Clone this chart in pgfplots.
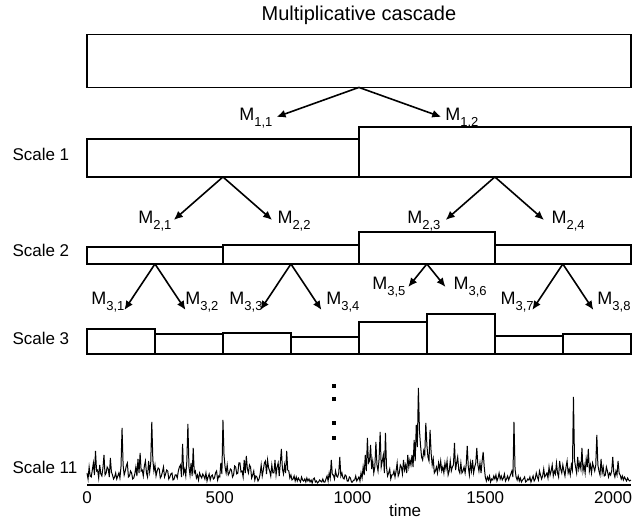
\documentclass[border=0pt]{standalone}
\usepackage{fontspec}
\setmainfont{Liberation Sans}
\usepackage{pgfplots}
\pgfplotsset{compat=1.18}
\usetikzlibrary{arrows.meta}

% label M_{i,j} with a lowered small index
\newcommand{\Mlab}[2]{M\raisebox{-3pt}{\fontsize{6.5}{7}\selectfont #1,#2}}

\tikzset{
  box/.style={black, line width=0.8pt, line join=miter},
  arr/.style={black, line width=0.8pt, -{Latex[length=4.5pt,width=4pt]}},
  lab/.style={anchor=base west, inner sep=0pt, font=\fontsize{9}{10}\selectfont},
  sc/.style={anchor=west, inner sep=0pt, font=\fontsize{8.5}{10}\selectfont},
}

\begin{document}
\begin{tikzpicture}
\begin{axis}[
  name=ax,
  scale only axis,
  width=271.9pt, height=242.5pt,
  xmin=0, xmax=2048, ymin=0, ymax=485,
  axis x line=bottom, axis y line=none,
  x axis line style={line width=1pt,-},
  xtick={0,500,1000,1500,2000},
  xticklabels={0,500,1000,1500,\hspace*{-5pt}2000},
  major tick length=0pt,
  ticklabel style={font=\fontsize{8.5}{10}\selectfont},
  /pgf/number format/assume math mode=true,
  clip=false,
]
% title
\node[font=\fontsize{10}{12}\selectfont] at (axis cs:1024,470) {Multiplicative cascade};

% scale 0
\addplot[box, no markers] coordinates {(0,397.5) (0,450.5) (2048,450.5) (2048,397.5)} -- cycle;
% scale 1
\addplot[box, no markers] coordinates {(0,308) (0,346) (1024,346) (1024,308)} -- cycle;
\addplot[box, no markers] coordinates {(1024,308) (1024,358) (2048,358) (2048,308)} -- cycle;
% scale 2
\addplot[box, no markers] coordinates {(0,221) (0,238) (512,238) (512,221)} -- cycle;
\addplot[box, no markers] coordinates {(512,221) (512,240) (1024,240) (1024,221)} -- cycle;
\addplot[box, no markers] coordinates {(1024,221) (1024,253) (1536,253) (1536,221)} -- cycle;
\addplot[box, no markers] coordinates {(1536,221) (1536,240) (2048,240) (2048,221)} -- cycle;
% scale 3
\addplot[box, no markers] coordinates {(0,131) (0,156) (256,156) (256,131)} -- cycle;
\addplot[box, no markers] coordinates {(256,131) (256,150.7) (512,150.7) (512,131)} -- cycle;
\addplot[box, no markers] coordinates {(512,131) (512,151.7) (768,151.7) (768,131)} -- cycle;
\addplot[box, no markers] coordinates {(768,131) (768,147.7) (1024,147.7) (1024,131)} -- cycle;
\addplot[box, no markers] coordinates {(1024,131) (1024,162.7) (1280,162.7) (1280,131)} -- cycle;
\addplot[box, no markers] coordinates {(1280,131) (1280,170.7) (1536,170.7) (1536,131)} -- cycle;
\addplot[box, no markers] coordinates {(1536,131) (1536,149) (1792,149) (1792,131)} -- cycle;
\addplot[box, no markers] coordinates {(1792,131) (1792,150.7) (2048,150.7) (2048,131)} -- cycle;

% arrows
\addplot[arr, no markers] coordinates {(1024,397.5) (714,368)};
\addplot[arr, no markers] coordinates {(1024,397.5) (1334,368)};
\addplot[arr, no markers] coordinates {(512,308) (327,265)};
\addplot[arr, no markers] coordinates {(512,308) (697,265)};
\addplot[arr, no markers] coordinates {(1536,308) (1351,265)};
\addplot[arr, no markers] coordinates {(1536,308) (1721,265)};
\addplot[arr, no markers] coordinates {(256,221) (141,175)};
\addplot[arr, no markers] coordinates {(256,221) (371,175)};
\addplot[arr, no markers] coordinates {(768,221) (653,175)};
\addplot[arr, no markers] coordinates {(768,221) (883,175)};
\addplot[arr, no markers] coordinates {(1280,221) (1210,198)};
\addplot[arr, no markers] coordinates {(1280,221) (1350,198)};
\addplot[arr, no markers] coordinates {(1792,221) (1677,175)};
\addplot[arr, no markers] coordinates {(1792,221) (1907,175)};

% multiplier labels
\node[lab] at (axis cs:572,364.6) {\Mlab{1}{1}};
\node[lab] at (axis cs:1348,364.6) {\Mlab{1}{2}};
\node[lab] at (axis cs:192,261.6) {\Mlab{2}{1}};
\node[lab] at (axis cs:716,261.6) {\Mlab{2}{2}};
\node[lab] at (axis cs:1205,261.6) {\Mlab{2}{3}};
\node[lab] at (axis cs:1748,261.6) {\Mlab{2}{4}};
\node[lab] at (axis cs:15,180) {\Mlab{3}{1}};
\node[lab] at (axis cs:369,180) {\Mlab{3}{2}};
\node[lab] at (axis cs:535,180) {\Mlab{3}{3}};
\node[lab] at (axis cs:900,180) {\Mlab{3}{4}};
\node[lab] at (axis cs:1073,195.6) {\Mlab{3}{5}};
\node[lab] at (axis cs:1379,195.6) {\Mlab{3}{6}};
\node[lab] at (axis cs:1556,180) {\Mlab{3}{7}};
\node[lab] at (axis cs:1921,180) {\Mlab{3}{8}};

% scale labels
\node[sc] at (axis cs:-282,330) {Scale 1};
\node[sc] at (axis cs:-282,235) {Scale 2};
\node[sc] at (axis cs:-282,147) {Scale 3};
\node[sc] at (axis cs:-282,18) {Scale 11};

% vertical ellipsis
\addplot[only marks, mark=square*, mark size=0.75pt, black] coordinates {(930,99) (930,86) (930,62) (930,47)};

% scale 11 series
\addplot[black, line width=0.5pt, no markers] coordinates {
(0,12) (4,6) (8,18) (12,9) (16,8) (20,15) (24,22) (28,10) (32,34) (36,14) (40,15) (44,7) (48,20) (52,11) (56,9) (60,17)
(64,30) (68,10) (72,12) (76,18) (80,16) (84,8) (88,27) (92,13) (96,10) (100,6) (104,8) (108,12) (112,6) (116,9) (120,12) (124,7)
(128,18) (132,57) (136,20) (140,10) (144,14) (148,19) (152,22) (156,8) (160,9) (164,14) (168,12) (172,6) (176,7) (180,11) (184,18) (188,9)
(192,26) (196,12) (200,32) (204,14) (208,15) (212,9) (216,19) (220,24) (224,12) (228,8) (232,24) (236,13) (240,22) (244,63) (248,25) (252,14)
(256,20) (260,9) (264,14) (268,17) (272,16) (276,7) (280,9) (284,13) (288,18) (292,8) (296,11) (300,15) (304,14) (308,6) (312,8) (316,11)
(320,12) (324,5) (328,6) (332,10) (336,10) (340,7) (344,14) (348,18) (352,20) (356,8) (360,41) (364,12) (368,16) (372,9) (376,24) (380,61)
(384,18) (388,10) (392,22) (396,9) (400,37) (404,12) (408,14) (412,7) (416,10) (420,5) (424,12) (428,9) (432,7) (436,11) (440,9) (444,6)
(448,12) (452,4) (456,8) (460,11) (464,5) (468,9) (472,10) (476,6) (480,7) (484,12) (488,14) (492,5) (496,9) (500,8) (504,22) (508,11)
(512,65) (516,30) (520,18) (524,12) (528,20) (532,10) (536,12) (540,16) (544,15) (548,8) (552,10) (556,19) (560,18) (564,11) (568,12) (572,22)
(576,22) (580,13) (584,14) (588,8) (592,25) (596,12) (600,29) (604,16) (608,12) (612,20) (616,18) (620,7) (624,10) (628,14) (632,5) (636,9)
(640,8) (644,4) (648,6) (652,11) (656,20) (660,9) (664,15) (668,22) (672,24) (676,11) (680,25) (684,17) (688,14) (692,9) (696,20) (700,12)
(704,12) (708,25) (712,10) (716,18) (720,22) (724,9) (728,22) (732,36) (736,16) (740,11) (744,20) (748,12) (752,34) (756,15) (760,14) (764,7)
(768,10) (772,5) (776,6) (780,9) (784,4) (788,8) (792,4) (796,7) (800,5) (804,3) (808,8) (812,5) (816,4) (820,6) (824,3) (828,7)
(832,4) (836,6) (840,3) (844,5) (848,2) (852,6) (856,7) (860,3) (864,4) (868,2) (872,3) (876,5) (880,4) (884,3) (888,6) (892,3)
(896,3) (900,6) (904,9) (908,4) (912,12) (916,7) (920,25) (924,10) (928,10) (932,6) (936,14) (940,9) (944,8) (948,12) (952,28) (956,9)
(960,12) (964,7) (968,6) (972,10) (976,9) (980,4) (984,4) (988,8) (992,7) (996,3) (1000,3) (1004,5) (1008,5) (1012,9) (1016,4) (1020,6)
(1024,8) (1028,4) (1032,12) (1036,7) (1040,18) (1044,10) (1048,30) (1052,14) (1056,47) (1060,22) (1064,24) (1068,40) (1072,16) (1076,24) (1080,12) (1084,18)
(1088,43) (1092,20) (1096,14) (1100,26) (1104,53) (1108,18) (1112,24) (1116,30) (1120,12) (1124,52) (1128,18) (1132,9) (1136,12) (1140,16) (1144,6) (1148,10)
(1152,10) (1156,14) (1160,8) (1164,14) (1168,22) (1172,9) (1176,12) (1180,20) (1184,18) (1188,11) (1192,25) (1196,15) (1200,20) (1204,12) (1208,30) (1212,18)
(1216,25) (1220,20) (1224,30) (1228,18) (1232,45) (1236,24) (1240,60) (1244,38) (1248,97) (1252,55) (1256,40) (1260,28) (1264,25) (1268,34) (1272,30) (1276,62)
(1280,40) (1284,28) (1288,24) (1292,55) (1296,32) (1300,20) (1304,26) (1308,12) (1312,14) (1316,18) (1320,12) (1324,22) (1328,16) (1332,24) (1336,14) (1340,18)
(1344,12) (1348,22) (1352,16) (1356,24) (1360,10) (1364,14) (1368,24) (1372,14) (1376,18) (1380,20) (1384,42) (1388,15) (1392,22) (1396,28) (1400,15) (1404,12)
(1408,22) (1412,12) (1416,14) (1420,18) (1424,12) (1428,20) (1432,39) (1436,18) (1440,10) (1444,22) (1448,14) (1452,25) (1456,12) (1460,18) (1464,22) (1468,37)
(1472,20) (1476,14) (1480,22) (1484,12) (1488,24) (1492,33) (1496,18) (1500,8) (1504,4) (1508,8) (1512,5) (1516,9) (1520,3) (1524,6) (1528,5) (1532,9)
(1536,6) (1540,10) (1544,4) (1548,7) (1552,12) (1556,6) (1560,9) (1564,5) (1568,7) (1572,11) (1576,4) (1580,6) (1584,9) (1588,5) (1592,8) (1596,11)
(1600,14) (1604,8) (1608,63) (1612,16) (1616,8) (1620,5) (1624,9) (1628,4) (1632,7) (1636,3) (1640,5) (1644,6) (1648,8) (1652,3) (1656,4) (1660,6)
(1664,5) (1668,8) (1672,3) (1676,6) (1680,9) (1684,4) (1688,6) (1692,12) (1696,8) (1700,5) (1704,14) (1708,10) (1712,6) (1716,9) (1720,16) (1724,8)
(1728,10) (1732,12) (1736,7) (1740,18) (1744,10) (1748,14) (1752,20) (1756,9) (1760,14) (1764,11) (1768,22) (1772,12) (1776,8) (1780,24) (1784,16) (1788,12)
(1792,20) (1796,14) (1800,9) (1804,18) (1808,24) (1812,12) (1816,16) (1820,10) (1824,20) (1828,15) (1832,88) (1836,25) (1840,18) (1844,12) (1848,28) (1852,16)
(1856,22) (1860,16) (1864,37) (1868,14) (1872,20) (1876,12) (1880,26) (1884,18) (1888,36) (1892,14) (1896,20) (1900,12) (1904,22) (1908,18) (1912,14) (1916,20)
(1920,50) (1924,20) (1928,14) (1932,10) (1936,26) (1940,12) (1944,18) (1948,9) (1952,10) (1956,18) (1960,14) (1964,8) (1968,12) (1972,10) (1976,14) (1980,28)
(1984,12) (1988,8) (1992,14) (1996,10) (2000,24) (2004,12) (2008,10) (2012,6) (2016,9) (2020,5) (2024,8) (2028,6) (2032,4) (2036,7) (2040,5) (2044,4)
(2048,5)
};

% axis label
\node[font=\fontsize{8.5}{10}\selectfont] at (axis cs:1198,-25) {time};
\end{axis}
\pgfresetboundingbox
\path (ax.south west) ++(-43.5pt,-16.5pt) rectangle ++(317.5pt,259pt);
\end{tikzpicture}
\end{document}
